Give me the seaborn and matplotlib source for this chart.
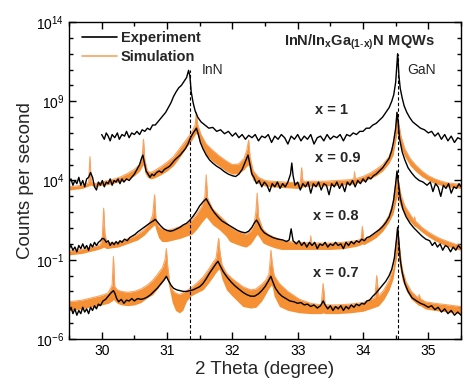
import numpy as np
import matplotlib
matplotlib.use("Agg")
import matplotlib.pyplot as plt
import matplotlib.ticker as mticker
from matplotlib.lines import Line2D
import seaborn as sns

# XRD 2theta-omega scans, columns: 2 theta (deg), log10(counts per second)
# experiment, x = 1
exp_x10 = np.array([
    [30.00, 6.9], [30.04, 6.6], [30.07, 7.0], [30.10, 6.8], [30.13, 6.5], [30.16, 6.9],
    [30.20, 6.7], [30.24, 7.0], [30.27, 6.6], [30.31, 6.9], [30.35, 6.8], [30.38, 7.1],
    [30.42, 6.7], [30.46, 7.0], [30.50, 6.9], [30.54, 7.1], [30.58, 6.9], [30.62, 7.2],
    [30.66, 7.1], [30.70, 7.3], [30.74, 7.2], [30.78, 7.5], [30.82, 7.5], [30.86, 7.7],
    [30.90, 7.9], [30.94, 8.1], [30.98, 8.3], [31.02, 8.6], [31.06, 8.9], [31.10, 9.3],
    [31.14, 9.6], [31.18, 9.85], [31.22, 10.0], [31.26, 10.25], [31.30, 10.5], [31.33, 10.95],
    [31.35, 10.6], [31.37, 9.6], [31.40, 8.9], [31.43, 8.4], [31.47, 8.0], [31.52, 7.7],
    [31.58, 7.5], [31.64, 7.3], [31.70, 7.35], [31.76, 7.1], [31.82, 7.2], [31.88, 6.95],
    [31.94, 7.1], [32.00, 6.8], [32.05, 7.0], [32.10, 6.7], [32.15, 6.9], [32.20, 6.6],
    [32.25, 6.85], [32.30, 6.7], [32.35, 6.9], [32.40, 6.5], [32.45, 6.8], [32.50, 6.7],
    [32.55, 6.9], [32.60, 6.4], [32.65, 6.8], [32.70, 6.6], [32.75, 6.9], [32.80, 6.7],
    [32.85, 6.3], [32.90, 6.8], [32.95, 6.6], [33.00, 6.9], [33.05, 6.5], [33.10, 6.8],
    [33.15, 6.6], [33.20, 6.9], [33.25, 6.3], [33.30, 6.7], [33.35, 6.8], [33.40, 6.5],
    [33.45, 6.9], [33.50, 6.6], [33.55, 6.8], [33.60, 6.7], [33.65, 6.9], [33.70, 6.5],
    [33.75, 6.9], [33.80, 6.8], [33.85, 7.0], [33.90, 6.9], [33.95, 7.1], [34.00, 7.1],
    [34.05, 7.3], [34.10, 7.3], [34.15, 7.5], [34.20, 7.6], [34.25, 7.8], [34.30, 8.0],
    [34.35, 8.3], [34.40, 8.6], [34.44, 9.0], [34.47, 9.4], [34.50, 10.2], [34.53, 12.0],
    [34.55, 10.6], [34.57, 9.8], [34.60, 9.2], [34.63, 8.7], [34.67, 8.3], [34.71, 8.0],
    [34.76, 7.7], [34.82, 7.5], [34.88, 7.3], [34.94, 7.2], [35.00, 7.0], [35.05, 7.1],
    [35.10, 6.8], [35.15, 7.0], [35.20, 6.6], [35.25, 6.9], [35.30, 6.5], [35.35, 6.8],
    [35.40, 6.4], [35.45, 6.7], [35.50, 6.6],
])

# experiment, x = 0.9
exp_x09 = np.array([
    [29.50, 3.9], [29.53, 4.1], [29.56, 3.7], [29.59, 4.0], [29.62, 3.8], [29.65, 4.2],
    [29.68, 3.7], [29.71, 4.0], [29.74, 3.6], [29.77, 4.1], [29.80, 4.2], [29.83, 4.5],
    [29.86, 4.2], [29.89, 3.6], [29.92, 3.4], [29.95, 3.9], [29.98, 3.7], [30.01, 4.0],
    [30.04, 3.6], [30.07, 3.9], [30.10, 3.8], [30.13, 4.1], [30.16, 3.7], [30.19, 4.0],
    [30.22, 3.9], [30.25, 4.1], [30.28, 3.8], [30.31, 4.1], [30.34, 3.9], [30.38, 4.1],
    [30.42, 4.0], [30.46, 4.2], [30.50, 4.4], [30.54, 4.7], [30.58, 5.0], [30.61, 5.4],
    [30.63, 5.6], [30.65, 5.2], [30.68, 4.6], [30.71, 4.4], [30.74, 4.2], [30.77, 4.4],
    [30.80, 4.3], [30.84, 4.5], [30.88, 4.6], [30.92, 4.5], [30.96, 4.7], [31.00, 4.8],
    [31.04, 4.9], [31.08, 5.1], [31.12, 5.3], [31.16, 5.45], [31.20, 5.6], [31.24, 5.8],
    [31.28, 6.0], [31.32, 6.3], [31.36, 6.7], [31.40, 7.0], [31.45, 7.3], [31.48, 6.9],
    [31.51, 6.4], [31.55, 6.0], [31.60, 5.6], [31.65, 5.3], [31.70, 5.1], [31.76, 4.9],
    [31.82, 4.75], [31.88, 4.55], [31.94, 4.4], [32.00, 4.3], [32.05, 4.25], [32.10, 4.4],
    [32.15, 4.7], [32.19, 5.1], [32.22, 5.4], [32.24, 5.6], [32.27, 5.0], [32.30, 4.4],
    [32.33, 4.2], [32.37, 3.8], [32.41, 4.0], [32.45, 3.6], [32.49, 3.9], [32.53, 3.7],
    [32.57, 3.3], [32.61, 3.8], [32.65, 3.6], [32.69, 3.9], [32.73, 3.5], [32.77, 3.8],
    [32.81, 3.6], [32.85, 3.9], [32.89, 4.4], [32.91, 5.1], [32.93, 4.3], [32.96, 3.7],
    [33.00, 3.9], [33.04, 3.4], [33.08, 3.8], [33.12, 3.6], [33.16, 3.9], [33.20, 3.2],
    [33.24, 3.8], [33.28, 3.6], [33.32, 3.9], [33.36, 3.4], [33.40, 3.8], [33.44, 3.7],
    [33.48, 3.1], [33.52, 3.8], [33.56, 3.6], [33.60, 3.9], [33.64, 3.5], [33.68, 3.8],
    [33.72, 3.3], [33.76, 3.9], [33.80, 3.7], [33.84, 4.0], [33.88, 3.6], [33.92, 4.0],
    [33.96, 3.8], [34.00, 4.1], [34.04, 3.9], [34.08, 4.2], [34.12, 4.1], [34.16, 4.3],
    [34.20, 4.4], [34.25, 4.6], [34.30, 4.8], [34.35, 5.1], [34.40, 5.4], [34.44, 5.9],
    [34.47, 6.5], [34.50, 7.3], [34.52, 8.3], [34.54, 7.6], [34.56, 6.6], [34.60, 5.8],
    [34.64, 5.3], [34.69, 4.8], [34.74, 4.5], [34.80, 4.2], [34.86, 4.0], [34.92, 3.9],
    [34.98, 3.7], [35.03, 3.9], [35.07, 3.3], [35.11, 3.8], [35.15, 3.6], [35.19, 3.0],
    [35.23, 3.7], [35.27, 3.5], [35.31, 3.8], [35.35, 3.2], [35.39, 3.6], [35.43, 3.5],
    [35.47, 3.8], [35.50, 3.6],
])

# experiment, x = 0.8
exp_x08 = np.array([
    [29.50, -0.3], [29.53, -0.1], [29.56, -0.4], [29.59, -0.2], [29.62, -0.5], [29.65, -0.1],
    [29.68, -0.3], [29.71, 0.0], [29.74, -0.3], [29.77, -0.1], [29.80, -0.4], [29.83, 0.0],
    [29.86, -0.2], [29.89, 0.1], [29.92, -0.1], [29.95, 0.1], [29.98, 0.2], [30.01, 0.35],
    [30.04, 0.3], [30.07, 0.1], [30.10, 0.2], [30.13, -0.1], [30.16, 0.1], [30.19, -0.05],
    [30.22, 0.15], [30.25, 0.0], [30.28, 0.2], [30.31, 0.1], [30.35, 0.3], [30.39, 0.2],
    [30.43, 0.4], [30.47, 0.5], [30.51, 0.6], [30.55, 0.75], [30.60, 0.9], [30.65, 1.05],
    [30.70, 1.2], [30.75, 1.35], [30.79, 1.45], [30.82, 1.55], [30.85, 1.4], [30.90, 1.15],
    [30.95, 0.95], [31.00, 0.85], [31.05, 0.8], [31.10, 0.85], [31.15, 0.95], [31.20, 1.05],
    [31.25, 1.2], [31.30, 1.3], [31.35, 1.5], [31.40, 1.75], [31.45, 2.05], [31.50, 2.4],
    [31.55, 2.65], [31.60, 2.85], [31.64, 2.55], [31.68, 2.25], [31.72, 2.0], [31.78, 1.7],
    [31.84, 1.45], [31.90, 1.3], [31.96, 1.15], [32.02, 1.0], [32.08, 0.85], [32.14, 0.75],
    [32.20, 0.7], [32.25, 0.8], [32.30, 1.05], [32.34, 1.35], [32.37, 1.5], [32.40, 1.3],
    [32.44, 0.95], [32.49, 0.7], [32.55, 0.55], [32.62, 0.4], [32.70, 0.3], [32.77, 0.25],
    [32.83, 0.15], [32.87, 0.25], [32.90, 0.95], [32.93, 0.2], [32.98, 0.0], [33.02, 0.2],
    [33.06, -0.1], [33.10, 0.1], [33.14, -0.2], [33.18, 0.1], [33.22, -0.1], [33.26, 0.1],
    [33.30, -0.3], [33.34, 0.0], [33.38, -0.1], [33.42, 0.1], [33.46, -0.2], [33.50, 0.0],
    [33.54, -0.1], [33.58, 0.1], [33.62, -0.1], [33.66, 0.0], [33.70, -0.3], [33.74, 0.1],
    [33.78, -0.1], [33.82, 0.15], [33.86, 0.0], [33.90, 0.2], [33.94, 0.1], [33.98, 0.3],
    [34.02, 0.2], [34.06, 0.4], [34.10, 0.45], [34.15, 0.6], [34.20, 0.75], [34.25, 0.9],
    [34.30, 1.1], [34.35, 1.35], [34.40, 1.7], [34.44, 2.2], [34.47, 2.8], [34.50, 3.8],
    [34.52, 4.6], [34.54, 3.9], [34.57, 2.9], [34.61, 2.2], [34.66, 1.7], [34.72, 1.3],
    [34.78, 1.0], [34.84, 0.75], [34.90, 0.5], [34.96, 0.3], [35.02, 0.2], [35.06, -0.1],
    [35.10, 0.1], [35.14, -0.2], [35.18, 0.0], [35.22, -0.4], [35.26, -0.1], [35.30, -0.2],
    [35.34, -0.5], [35.38, -0.2], [35.42, -0.4], [35.46, -0.1], [35.50, -0.3],
])

# experiment, x = 0.7
exp_x07 = np.array([
    [29.50, -4.3], [29.53, -4.0], [29.56, -4.4], [29.59, -4.1], [29.62, -4.5], [29.65, -4.2],
    [29.68, -4.4], [29.71, -4.0], [29.74, -4.3], [29.77, -4.1], [29.80, -4.4], [29.83, -4.0],
    [29.86, -4.2], [29.89, -3.9], [29.92, -4.1], [29.95, -3.8], [29.98, -3.9], [30.02, -3.6],
    [30.06, -3.5], [30.10, -3.3], [30.14, -3.1], [30.18, -2.95], [30.20, -3.1], [30.23, -3.45],
    [30.26, -3.65], [30.30, -3.5], [30.34, -3.75], [30.38, -3.55], [30.42, -3.6], [30.46, -3.45],
    [30.50, -3.6], [30.55, -3.45], [30.60, -3.5], [30.65, -3.45], [30.70, -3.35], [30.75, -3.2],
    [30.80, -3.0], [30.85, -2.8], [30.90, -2.55], [30.95, -2.3], [30.99, -2.05], [31.02, -2.3],
    [31.06, -2.6], [31.10, -2.8], [31.15, -2.9], [31.20, -2.95], [31.25, -3.0], [31.30, -3.0],
    [31.35, -2.95], [31.40, -2.9], [31.45, -2.8], [31.50, -2.7], [31.55, -2.5], [31.60, -2.2],
    [31.65, -1.85], [31.70, -1.55], [31.75, -1.25], [31.78, -1.1], [31.81, -1.35], [31.86, -1.75],
    [31.92, -2.1], [31.98, -2.4], [32.04, -2.65], [32.10, -2.85], [32.16, -3.05], [32.22, -3.2],
    [32.28, -3.3], [32.34, -3.3], [32.40, -3.15], [32.45, -2.95], [32.50, -2.7], [32.55, -2.35],
    [32.59, -2.05], [32.62, -2.4], [32.66, -2.8], [32.71, -3.1], [32.76, -3.3], [32.82, -3.45],
    [32.88, -3.6], [32.94, -3.65], [33.00, -3.75], [33.05, -3.7], [33.10, -3.85], [33.15, -3.8],
    [33.20, -3.95], [33.25, -3.85], [33.30, -4.05], [33.35, -3.9], [33.39, -3.6], [33.42, -3.85],
    [33.46, -4.1], [33.50, -3.9], [33.54, -4.2], [33.58, -3.95], [33.62, -4.1], [33.66, -3.9],
    [33.70, -4.2], [33.74, -3.95], [33.78, -4.1], [33.82, -3.85], [33.86, -4.0], [33.90, -3.8],
    [33.94, -3.9], [33.98, -3.75], [34.02, -3.8], [34.06, -3.6], [34.10, -3.55], [34.15, -3.3],
    [34.20, -3.1], [34.25, -2.85], [34.30, -2.6], [34.35, -2.35], [34.40, -2.0], [34.44, -1.6],
    [34.48, -0.9], [34.51, 0.2], [34.53, 1.05], [34.55, 0.1], [34.57, -1.0], [34.60, -1.8],
    [34.64, -2.5], [34.69, -3.0], [34.75, -3.4], [34.82, -3.6], [34.88, -3.75], [34.94, -3.85],
    [35.00, -4.0], [35.05, -3.9], [35.10, -4.15], [35.15, -4.0], [35.20, -4.3], [35.25, -4.1],
    [35.30, -4.4], [35.35, -4.2], [35.40, -4.5], [35.45, -4.3], [35.50, -4.5],
])

# simulation bands, columns: 2 theta, log10 upper envelope, log10 lower envelope
sim_x09 = np.array([
    [29.50, 3.6, 3.4], [29.60, 3.65, 3.45], [29.70, 3.7, 3.5], [29.80, 3.85, 3.65],
    [29.82, 5.5, 3.7], [29.84, 3.9, 3.7], [29.90, 3.8, 3.6], [30.00, 3.9, 3.7],
    [30.10, 4.0, 3.75], [30.20, 4.1, 3.85], [30.30, 4.25, 3.95], [30.40, 4.45, 4.1],
    [30.50, 4.7, 4.3], [30.58, 5.0, 4.6], [30.62, 5.5, 4.9], [30.64, 6.6, 5.0],
    [30.66, 5.3, 4.5], [30.70, 4.6, 4.2], [30.75, 4.5, 4.1], [30.80, 4.6, 4.15],
    [30.90, 4.85, 4.35], [31.00, 5.15, 4.6], [31.10, 5.5, 4.95], [31.20, 6.05, 5.5],
    [31.30, 6.6, 6.1], [31.38, 7.05, 6.55], [31.43, 7.5, 6.9], [31.45, 8.3, 7.0],
    [31.47, 7.5, 6.8], [31.52, 6.9, 6.3], [31.60, 6.3, 5.6], [31.70, 5.9, 5.2],
    [31.80, 5.55, 4.9], [31.90, 5.25, 4.6], [32.00, 5.0, 4.4], [32.10, 5.05, 4.45],
    [32.18, 5.4, 4.7], [32.22, 5.9, 4.9], [32.25, 6.55, 5.0], [32.27, 5.5, 4.5],
    [32.32, 4.6, 4.0], [32.40, 4.2, 3.8], [32.50, 4.0, 3.65], [32.60, 3.95, 3.6],
    [32.80, 3.9, 3.55], [33.00, 3.85, 3.5], [33.04, 3.85, 3.5], [33.06, 4.8, 3.55],
    [33.08, 3.95, 3.6], [33.20, 3.95, 3.65], [33.40, 3.95, 3.65], [33.60, 4.0, 3.7],
    [33.80, 4.05, 3.75], [33.86, 4.1, 3.8], [33.87, 4.55, 3.8], [33.88, 4.1, 3.8],
    [34.00, 4.25, 3.95], [34.10, 4.45, 4.1], [34.20, 4.7, 4.3], [34.30, 5.0, 4.6],
    [34.40, 5.5, 5.1], [34.46, 6.2, 5.6], [34.50, 7.3, 6.5], [34.52, 8.3, 7.0],
    [34.54, 7.8, 6.8], [34.58, 6.8, 6.1], [34.64, 6.0, 5.5], [34.72, 5.4, 4.95],
    [34.80, 5.0, 4.6], [34.90, 4.6, 4.25], [35.00, 4.3, 4.0], [35.10, 4.1, 3.8],
    [35.20, 3.95, 3.7], [35.30, 3.85, 3.6], [35.40, 3.8, 3.55], [35.50, 3.75, 3.5],
])

sim_x08 = np.array([
    [29.50, -0.45, -0.7], [29.60, -0.4, -0.65], [29.70, -0.35, -0.6], [29.80, -0.25, -0.5],
    [29.90, -0.15, -0.4], [29.98, -0.05, -0.3], [30.01, 0.5, -0.25], [30.03, 2.25, -0.2],
    [30.05, 0.6, -0.25], [30.08, 0.1, -0.3], [30.15, 0.05, -0.25], [30.25, 0.1, -0.2],
    [30.35, 0.25, -0.05], [30.45, 0.4, 0.1], [30.55, 0.6, 0.25], [30.65, 0.9, 0.55],
    [30.73, 1.3, 0.9], [30.78, 1.8, 1.1], [30.81, 3.1, 1.2], [30.83, 1.6, 0.9],
    [30.87, 1.1, 0.4], [30.92, 0.95, 0.15], [31.00, 0.85, 0.15], [31.10, 0.95, 0.25],
    [31.20, 1.1, 0.35], [31.30, 1.3, 0.5], [31.38, 1.5, 0.6], [31.45, 1.85, 0.9],
    [31.53, 2.35, 1.35], [31.58, 3.0, 1.6], [31.60, 4.35, 1.7], [31.62, 2.9, 1.6],
    [31.70, 2.2, 1.2], [31.80, 1.8, 0.9], [31.90, 1.4, 0.5], [31.96, 1.1, 0.15],
    [32.05, 0.85, 0.0], [32.15, 0.7, -0.15], [32.21, 0.6, -0.2], [32.28, 0.8, 0.0],
    [32.33, 1.2, 0.3], [32.36, 2.0, 0.5], [32.38, 3.2, 0.6], [32.40, 1.7, 0.5],
    [32.47, 0.9, 0.05], [32.55, 0.6, -0.1], [32.65, 0.4, -0.25], [32.75, 0.25, -0.35],
    [32.85, 0.15, -0.35], [33.00, 0.1, -0.35], [33.19, 0.05, -0.35], [33.20, 0.5, -0.35],
    [33.21, 0.05, -0.35], [33.50, 0.05, -0.35], [33.70, 0.1, -0.3], [33.90, 0.2, -0.15],
    [33.97, 0.3, -0.05], [33.99, 1.1, 0.0], [34.01, 0.3, -0.05], [34.10, 0.45, 0.15],
    [34.20, 0.75, 0.4], [34.30, 1.15, 0.8], [34.40, 1.8, 1.4], [34.46, 2.6, 1.9],
    [34.50, 3.8, 2.6], [34.52, 4.5, 3.0], [34.54, 4.0, 2.8], [34.58, 3.1, 2.3],
    [34.64, 2.4, 1.85], [34.70, 2.0, 1.5], [34.78, 1.5, 1.15], [34.79, 1.7, 1.1],
    [34.80, 1.45, 1.1], [34.90, 1.05, 0.75], [35.00, 0.75, 0.45], [35.10, 0.5, 0.2],
    [35.20, 0.3, 0.0], [35.30, 0.15, -0.15], [35.40, 0.0, -0.3], [35.50, -0.1, -0.4],
])

sim_x07 = np.array([
    [29.50, -3.65, -4.2], [29.60, -3.6, -4.15], [29.70, -3.55, -4.1], [29.80, -3.45, -4.0],
    [29.90, -3.35, -3.95], [30.00, -3.25, -3.85], [30.10, -3.1, -3.75], [30.16, -2.6, -3.6],
    [30.18, -0.8, -3.5], [30.20, -2.7, -3.6], [30.24, -2.9, -3.75], [30.30, -3.0, -3.85],
    [30.40, -3.05, -3.9], [30.50, -3.0, -3.85], [30.60, -2.85, -3.7], [30.70, -2.6, -3.4],
    [30.78, -2.3, -3.2], [30.86, -1.9, -2.8], [30.93, -1.5, -2.4], [30.97, -1.0, -2.2],
    [30.99, -0.3, -2.1], [31.01, -1.4, -2.3], [31.04, -2.4, -2.9], [31.08, -2.9, -3.7],
    [31.13, -3.1, -4.2], [31.19, -3.2, -4.35], [31.24, -3.1, -4.2], [31.30, -2.95, -3.6],
    [31.36, -2.8, -3.3], [31.45, -2.5, -3.1], [31.55, -2.1, -2.9], [31.63, -1.65, -2.5],
    [31.70, -1.2, -2.1], [31.75, -0.9, -1.8], [31.77, -0.3, -1.7], [31.79, 0.35, -1.6],
    [31.81, -0.5, -1.7], [31.84, -1.3, -2.2], [31.91, -1.85, -2.9], [32.00, -2.2, -3.3],
    [32.16, -2.7, -3.95], [32.28, -2.9, -4.05], [32.36, -2.85, -4.0], [32.45, -2.55, -3.6],
    [32.52, -2.25, -3.1], [32.56, -1.9, -2.8], [32.58, -1.0, -2.7], [32.59, -0.4, -2.6],
    [32.61, -1.2, -2.7], [32.64, -2.0, -3.3], [32.72, -2.5, -3.95], [32.85, -3.0, -4.2],
    [33.03, -3.5, -4.35], [33.20, -3.75, -4.4], [33.36, -3.85, -4.4], [33.39, -2.5, -4.35],
    [33.42, -3.85, -4.4], [33.60, -3.85, -4.4], [33.80, -3.8, -4.35], [34.00, -3.7, -4.25],
    [34.18, -3.4, -4.0], [34.21, -2.0, -3.95], [34.24, -3.3, -3.9], [34.32, -2.9, -3.5],
    [34.40, -2.3, -2.9], [34.46, -1.5, -2.2], [34.50, -0.2, -1.2], [34.53, 1.0, -0.5],
    [34.56, -0.3, -1.4], [34.60, -1.6, -2.3], [34.66, -2.4, -2.95], [34.74, -3.0, -3.5],
    [34.84, -3.4, -3.85], [34.86, -3.2, -3.9], [34.88, -3.45, -3.9], [34.95, -3.65, -4.1],
    [35.10, -3.75, -4.2], [35.20, -3.8, -4.25], [35.30, -3.85, -4.3], [35.40, -3.9, -4.35],
    [35.50, -3.95, -4.4],
])

curve_labels = ["x = 1", "x = 0.9", "x = 0.8", "x = 0.7"]
label_pos = [(33.52, 8.45), (33.61, 5.42), (33.59, 1.76), (33.59, -1.84)]
peak_names = ["InN", "GaN"]
peak_pos = [31.35, 34.54]
peak_top = [10.95, 12.0]

sns.set_theme(style="ticks")
plt.rcParams["font.family"] = ["Liberation Sans", "DejaVu Sans"]
plt.rcParams["mathtext.fontset"] = "custom"
plt.rcParams["mathtext.rm"] = "Liberation Sans"
plt.rcParams["mathtext.bf"] = "Liberation Sans:bold"
plt.rcParams["mathtext.default"] = "regular"

orange = "#F58A2A"
orange_lt = "#F6A465"

fig = plt.figure(figsize=(4.74, 3.90), dpi=100)
ax = fig.add_axes([0.1456, 0.1308, 0.827, 0.8128])

for sim in [sim_x09, sim_x08, sim_x07]:
    ax.fill_between(sim[:, 0], 10 ** sim[:, 2], 10 ** sim[:, 1], color=orange, lw=0, alpha=0.95)
    sns.lineplot(x=sim[:, 0], y=10 ** sim[:, 1], color=orange_lt, lw=0.8, ax=ax,
                 estimator=None, sort=False)

for ex in [exp_x10, exp_x09, exp_x08, exp_x07]:
    sns.lineplot(x=ex[:, 0], y=10 ** ex[:, 1], color="black", lw=1.0, ax=ax,
                 estimator=None, sort=False)

for xp, top in zip(peak_pos, peak_top):
    ax.vlines(xp, 1e-6, 10 ** top, colors="black", linestyles=(0, (3, 2)), lw=0.8)

ax.set_yscale("log")
ax.set_xlim(29.5, 35.5)
ax.set_ylim(1e-6, 1e14)

ax.xaxis.set_major_locator(mticker.MultipleLocator(1))
ax.xaxis.set_minor_locator(mticker.MultipleLocator(0.5))
ax.yaxis.set_major_locator(mticker.FixedLocator([1e-6, 1e-1, 1e4, 1e9, 1e14]))
ax.yaxis.set_minor_locator(mticker.FixedLocator([10.0 ** k for k in range(-6, 15)]))
ax.yaxis.set_major_formatter(mticker.LogFormatterSciNotation())
ax.yaxis.set_minor_formatter(mticker.NullFormatter())
ax.tick_params(which="both", direction="in", top=True, right=True, width=1.0,
               labelsize=10, colors="black")
ax.tick_params(which="major", length=5)
ax.tick_params(which="minor", length=3)
for s in ax.spines.values():
    s.set_linewidth(1.0)
    s.set_color("black")

ax.set_xlabel("2 Theta (degree)", fontsize=13.5, labelpad=2)
ax.set_ylabel("Counts per second", fontsize=13.5, labelpad=1)

for txt, (xx, ll) in zip(curve_labels, label_pos):
    ax.text(xx, 10 ** ll, txt, ha="center", va="center", fontsize=10.5, fontweight="bold")
ax.text(31.70, 10 ** 10.97, peak_names[0], ha="center", va="center", fontsize=10)
ax.text(34.89, 10 ** 10.97, peak_names[1], ha="center", va="center", fontsize=10)
ax.text(0.742, 0.937, r"$\mathbf{InN/In_xGa_{(1\text{-}x)}N\ MQWs}$", transform=ax.transAxes,
        ha="center", va="center", fontsize=10.5)

handles = [Line2D([], [], color="black", lw=1.2), Line2D([], [], color=orange_lt, lw=1.2)]
ax.legend(handles, ["Experiment", "Simulation"], loc="upper left", frameon=False,
          prop={"weight": "bold", "size": 10.5}, handlelength=2.4, handletextpad=0.3,
          labelspacing=0.35, borderaxespad=0.2, bbox_to_anchor=(0.01, 1.0))

fig.savefig("out.png", dpi=100)
